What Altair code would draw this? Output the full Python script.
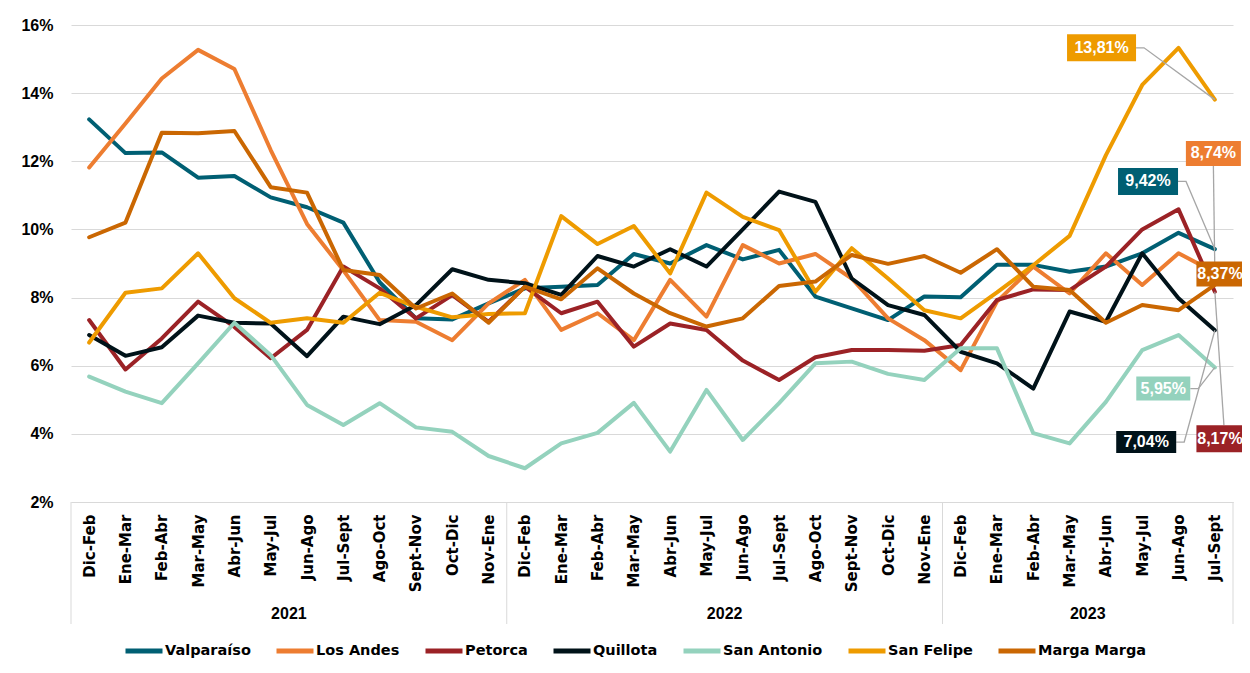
import altair as alt
import pandas as pd

# ---------------- data ----------------
months_full = ["Dic-Feb", "Ene-Mar", "Feb-Abr", "Mar-May", "Abr-Jun", "May-Jul",
               "Jun-Ago", "Jul-Sept", "Ago-Oct", "Sept-Nov", "Oct-Dic", "Nov-Ene"]
years = ["2021", "2022", "2023"]
year_counts = [12, 12, 8]
periods = months_full + months_full + months_full[:8]

series_names = ["Valparaíso", "Los Andes", "Petorca", "Quillota",
                "San Antonio", "San Felipe", "Marga Marga"]
colors = ["#005F73", "#ED7D31", "#9B2226", "#001219", "#94D2BD", "#EE9B00", "#CA6702"]

valparaiso = [13.23, 12.24, 12.26, 11.52, 11.57, 10.94, 10.65, 10.20, 8.45, 7.39, 7.36, 7.83,
              8.27, 8.32, 8.37, 9.28, 9.00, 9.54, 9.12, 9.40, 8.03, 7.68, 7.34, 8.03,
              8.01, 8.96, 8.96, 8.76, 8.91, 9.30, 9.90, 9.42]
los_andes = [11.82, 13.11, 14.43, 15.27, 14.71, 12.33, 10.16, 8.80, 7.34, 7.29, 6.75, 7.83,
             8.52, 7.05, 7.54, 6.75, 8.52, 7.44, 9.54, 9.00, 9.28, 8.56, 7.39, 6.75,
             5.87, 7.88, 8.91, 8.12, 9.30, 8.37, 9.30, 8.74]
petorca = [7.34, 5.89, 6.80, 7.88, 7.14, 6.22, 7.05, 8.91, 8.27, 7.39, 8.07, 7.29,
           8.32, 7.54, 7.88, 6.56, 7.24, 7.05, 6.15, 5.58, 6.25, 6.46, 6.46, 6.44,
           6.61, 7.93, 8.24, 8.22, 8.91, 10.00, 10.59, 8.17]
quillota = [6.90, 6.29, 6.54, 7.47, 7.26, 7.24, 6.28, 7.44, 7.22, 7.78, 8.83, 8.52,
            8.42, 8.08, 9.22, 8.91, 9.42, 8.91, 10.00, 11.11, 10.81, 8.56, 7.78, 7.49,
            6.41, 6.07, 5.33, 7.59, 7.29, 9.30, 7.98, 7.04]
san_antonio = [5.68, 5.24, 4.90, 6.07, 7.26, 6.31, 4.85, 4.26, 4.90, 4.19, 4.06, 3.35,
               2.99, 3.72, 4.03, 4.91, 3.48, 5.29, 3.82, 4.90, 6.07, 6.12, 5.76, 5.58,
               6.51, 6.51, 4.02, 3.72, 4.94, 6.46, 6.90, 5.95]
san_felipe = [6.68, 8.14, 8.27, 9.30, 7.98, 7.26, 7.39, 7.26, 8.14, 7.73, 7.42, 7.52,
              7.54, 10.39, 9.57, 10.10, 8.71, 11.08, 10.37, 9.98, 8.17, 9.45, 8.56, 7.63,
              7.39, 8.15, 8.95, 9.81, 12.18, 14.24, 15.33, 13.81]
marga_marga = [9.77, 10.20, 12.84, 12.82, 12.89, 11.24, 11.08, 8.81, 8.66, 7.68, 8.12, 7.26,
               8.32, 7.95, 8.86, 8.12, 7.54, 7.15, 7.39, 8.34, 8.47, 9.25, 8.99, 9.22,
               8.73, 9.42, 8.32, 8.22, 7.26, 7.78, 7.63, 8.37]
series_values = [valparaiso, los_andes, petorca, quillota, san_antonio, san_felipe, marga_marga]

y_ticks = [2, 4, 6, 8, 10, 12, 14, 16]

# annotation layout (box centre in data units, box size in px, leader style)
ann_series = ["San Felipe", "Los Andes", "Valparaíso", "Marga Marga", "San Antonio", "Quillota", "Petorca"]
ann_cx = [27.88, 30.96, 29.16, 31.14, 29.58, 29.11, 31.14]
ann_cy = [15.33, 12.23, 11.41, 8.69, 5.33, 3.76, 3.86]
ann_w = [69, 55, 60, 47, 54, 60, 47]
ann_h = [27, 25, 27, 25, 24, 22, 27]
ann_leader = ["right", "down", "right", "none", "right", "right", "up"]

# ---------------- geometry ----------------
W, H = 1162, 477
n = len(periods)
X_DOMAIN = [-0.5, n - 0.5]
Y_DOMAIN = [2, 16]
px_x = W / (X_DOMAIN[1] - X_DOMAIN[0])
px_y = H / (Y_DOMAIN[1] - Y_DOMAIN[0])

FONT_AX = "Liberation Sans"
FONT_CAT = "DejaVu Sans"

# ---------------- tables ----------------
rows = []
for name, vals in zip(series_names, series_values):
    for i, v in enumerate(vals):
        rows.append({"serie": name, "idx": i, "valor": v})
df = pd.DataFrame(rows)

color_of = dict(zip(series_names, colors))
last_of = {name: vals[-1] for name, vals in zip(series_names, series_values)}

box_rows, lead_rows = [], []
for k, s in enumerate(ann_series):
    hx = ann_w[k] / 2 / px_x
    hy = ann_h[k] / 2 / px_y
    x1, x2 = ann_cx[k] - hx, ann_cx[k] + hx
    y1, y2 = ann_cy[k] - hy, ann_cy[k] + hy
    label = f"{last_of[s]:.2f}".replace(".", ",") + "%"
    box_rows.append({"serie": s, "x": x1, "x2": x2, "y": y1, "y2": y2,
                     "cx": ann_cx[k], "cy": ann_cy[k], "label": label, "col": color_of[s]})
    end = (n - 1, last_of[s])
    if ann_leader[k] == "right":
        pts = [(x2, ann_cy[k]), (x2 + 8 / px_x, ann_cy[k]), end]
    elif ann_leader[k] == "down":
        pts = [(ann_cx[k], y1), end]
    elif ann_leader[k] == "up":
        pts = [(ann_cx[k] + 4 / px_x, y2), end]
    else:
        pts = []
    for j, (px, py) in enumerate(pts):
        lead_rows.append({"ann": s, "step": j, "x": px, "y": py})
box_df = pd.DataFrame(box_rows)
lead_df = pd.DataFrame(lead_rows)

bounds = [0]
for c in year_counts:
    bounds.append(bounds[-1] + c)
sep_df = pd.DataFrame({"pos": [b - 0.5 for b in bounds]})
year_df = pd.DataFrame({"year": years,
                        "center": [(bounds[i] + bounds[i + 1] - 1) / 2 for i in range(len(years))]})

# ---------------- chart ----------------
x_scale = alt.Scale(domain=X_DOMAIN, nice=False, zero=False)
y_scale = alt.Scale(domain=Y_DOMAIN, nice=False, zero=False)

label_expr = "[" + ",".join(f"'{p}'" for p in periods) + "][datum.value]"

x_axis = alt.Axis(values=list(range(n)), labelExpr=label_expr, labelAngle=270,
                  labelAlign="right", labelBaseline="middle",
                  labelFont=FONT_CAT, labelFontWeight="bold", labelFontSize=15,
                  labelColor="#000000", labelPadding=12, ticks=False,
                  domainColor="#D9D9D9", domainWidth=1, grid=False, title=None,
                  labelOverlap=False, labelFlush=False)
y_axis = alt.Axis(values=y_ticks, labelExpr="datum.value + '%'",
                  labelFont=FONT_AX, labelFontWeight="bold", labelFontSize=16,
                  labelColor="#000000", labelPadding=18, ticks=False, domain=False,
                  grid=True, gridColor="#D9D9D9", gridWidth=1, title=None)

lines = alt.Chart(df).mark_line(strokeWidth=4, strokeCap="round", strokeJoin="round").encode(
    x=alt.X("idx:Q", scale=x_scale, axis=x_axis),
    y=alt.Y("valor:Q", scale=y_scale, axis=y_axis),
    color=alt.Color("serie:N", scale=alt.Scale(domain=series_names, range=colors),
                    sort=series_names,
                    legend=alt.Legend(title=None, orient="none", legendX=52, legendY=605,
                                      direction="horizontal", symbolType="stroke",
                                      symbolStrokeWidth=5, symbolSize=1369,
                                      labelFont=FONT_CAT, labelFontWeight="bold",
                                      labelFontSize=14.5, labelColor="#000000",
                                      columnPadding=15, labelOffset=0, labelLimit=300)),
    order=alt.Order("idx:Q"),
)

seps = alt.Chart(sep_df).mark_rule(color="#D9D9D9", strokeWidth=1).encode(
    x=alt.X("pos:Q", scale=x_scale, axis=x_axis), y=alt.value(H), y2=alt.value(H + 122))

year_text = alt.Chart(year_df).mark_text(font=FONT_AX, fontWeight="bold", fontSize=16,
                                         color="#000000", baseline="middle").encode(
    x=alt.X("center:Q", scale=x_scale, axis=x_axis), y=alt.value(H + 112), text="year:N")

leaders = alt.Chart(lead_df).mark_line(color="#A6A6A6", strokeWidth=1.3).encode(
    x=alt.X("x:Q", scale=x_scale, axis=x_axis), y=alt.Y("y:Q", scale=y_scale, axis=y_axis),
    detail="ann:N", order=alt.Order("step:Q"))

boxes = alt.Chart(box_df).mark_rect().encode(
    x=alt.X("x:Q", scale=x_scale, axis=x_axis), x2="x2:Q",
    y=alt.Y("y:Q", scale=y_scale, axis=y_axis), y2="y2:Q",
    fill=alt.Fill("col:N", scale=None))

box_text = alt.Chart(box_df).mark_text(font=FONT_AX, fontWeight="bold", fontSize=16,
                                       color="#FFFFFF", baseline="middle", align="center").encode(
    x=alt.X("cx:Q", scale=x_scale, axis=x_axis), y=alt.Y("cy:Q", scale=y_scale, axis=y_axis),
    text="label:N")

chart = alt.layer(lines, seps, year_text, leaders, boxes, box_text).properties(
    width=W, height=H,
    autosize=alt.AutoSizeParams(type="none"),
    padding={"left": 63, "top": 17, "right": 9, "bottom": 162},
    background="#FFFFFF",
).configure_view(stroke=None)

chart.save("out.html", embed_options={"renderer": "svg", "actions": False})
